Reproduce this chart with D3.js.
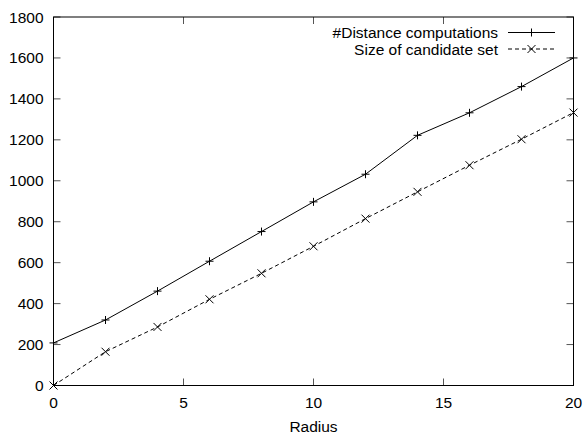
<!DOCTYPE html>
<html>
<head>
<meta charset="utf-8">
<script src="https://cdn.jsdelivr.net/npm/d3@7"></script>
<style>
body { margin: 0; background: #fff; }
text { font-family: "Liberation Sans", Arial, sans-serif; font-size: 15.5px; fill: #000; }
</style>
</head>
<body>
<div id="chart"></div>
<script>
// data
var radius = [0, 2, 4, 6, 8, 10, 12, 14, 16, 18, 20];
var distComps = [208, 320, 461, 607, 752, 897, 1032, 1222, 1332, 1460, 1600];
var candSize = [0, 165, 286, 421, 548, 680, 815, 946, 1076, 1203, 1333];
var xTicks = [0, 5, 10, 15, 20];
var yTicks = [0, 200, 400, 600, 800, 1000, 1200, 1400, 1600, 1800];
var seriesNames = ["#Distance computations", "Size of candidate set"];

var svgWidth = 587;
var svgHeight = 435;
var margin = { top: 17, right: 13.5, bottom: 49.5, left: 53.5 };
var width = svgWidth - margin.left - margin.right;
var height = svgHeight - margin.top - margin.bottom;

var svg = d3.select("#chart")
    .append("svg")
    .attr("width", svgWidth)
    .attr("height", svgHeight);

var g = svg.append("g")
    .attr("transform", `translate(${margin.left}, ${margin.top})`);

var x = d3.scaleLinear().domain([0, 20]).range([0, width]);
var y = d3.scaleLinear().domain([0, 1800]).range([height, 0]);

var tickLen = 7;

// tick marks (mirrored, inward)
var tickCol = "#555";
g.selectAll(".xt").data(xTicks).enter().append("g").each(function(d) {
    var s = d3.select(this);
    s.append("line").attr("x1", x(d)).attr("x2", x(d)).attr("y1", height).attr("y2", height - tickLen)
        .attr("stroke", tickCol).attr("stroke-width", 1);
    s.append("line").attr("x1", x(d)).attr("x2", x(d)).attr("y1", 0).attr("y2", tickLen)
        .attr("stroke", tickCol).attr("stroke-width", 1);
});
g.selectAll(".yt").data(yTicks).enter().append("g").each(function(d) {
    var s = d3.select(this);
    s.append("line").attr("x1", 0).attr("x2", tickLen).attr("y1", y(d)).attr("y2", y(d))
        .attr("stroke", tickCol).attr("stroke-width", 1);
    s.append("line").attr("x1", width).attr("x2", width - tickLen).attr("y1", y(d)).attr("y2", y(d))
        .attr("stroke", tickCol).attr("stroke-width", 1);
});

// frame
g.append("rect")
    .attr("x", 0).attr("y", 0)
    .attr("width", width).attr("height", height)
    .attr("fill", "none")
    .attr("stroke", "#000")
    .attr("stroke-width", 1);

// tick labels
g.selectAll(".xl").data(xTicks).enter().append("text")
    .attr("x", d => x(d))
    .attr("y", 408 - margin.top)
    .attr("text-anchor", "middle")
    .text(d => d);

g.selectAll(".yl").data(yTicks).enter().append("text")
    .attr("x", -10)
    .attr("y", d => y(d) + 5.5)
    .attr("text-anchor", "end")
    .text(d => d);

// axis label
g.append("text")
    .attr("x", width / 2)
    .attr("y", 432 - margin.top)
    .attr("text-anchor", "middle")
    .text("Radius");

var line = d3.line()
    .x(d => x(d[0]))
    .y(d => y(d[1]));

var ptsA = radius.map((r, i) => [r, distComps[i]]);
var ptsB = radius.map((r, i) => [r, candSize[i]]);

g.append("path")
    .datum(ptsA)
    .attr("d", line)
    .attr("fill", "none")
    .attr("stroke", "#000")
    .attr("stroke-width", 1);

g.append("path")
    .datum(ptsB)
    .attr("d", line)
    .attr("fill", "none")
    .attr("stroke", "#000")
    .attr("stroke-width", 1)
    .attr("stroke-dasharray", "4,3");

var m = 4;
function plusMark(sel, px, py) {
    sel.append("path")
        .attr("d", `M${px - m},${py}H${px + m}M${px},${py - m}V${py + m}`)
        .attr("stroke", "#000").attr("stroke-width", 1).attr("fill", "none");
}
function crossMark(sel, px, py) {
    sel.append("path")
        .attr("d", `M${px - m},${py - m}L${px + m},${py + m}M${px - m},${py + m}L${px + m},${py - m}`)
        .attr("stroke", "#000").attr("stroke-width", 1).attr("fill", "none");
}

ptsA.forEach(function(p) { plusMark(g, x(p[0]), y(p[1])); });
ptsB.forEach(function(p) { crossMark(g, x(p[0]), y(p[1])); });

// legend
var legX = 498 - margin.left;
var lineX1 = 508 - margin.left;
var lineX2 = 555 - margin.left;
var rowY = [32.5 - margin.top, 49 - margin.top];

seriesNames.forEach(function(name, i) {
    g.append("text")
        .attr("x", legX)
        .attr("y", rowY[i] + 5.5)
        .attr("text-anchor", "end")
        .text(name);
    g.append("line")
        .attr("x1", lineX1).attr("x2", lineX2)
        .attr("y1", rowY[i]).attr("y2", rowY[i])
        .attr("stroke", "#000").attr("stroke-width", 1)
        .attr("stroke-dasharray", i === 1 ? "4,3" : null);
    var mx = (lineX1 + lineX2) / 2;
    if (i === 0) plusMark(g, mx, rowY[i]);
    else crossMark(g, mx, rowY[i]);
});
</script>
</body>
</html>
